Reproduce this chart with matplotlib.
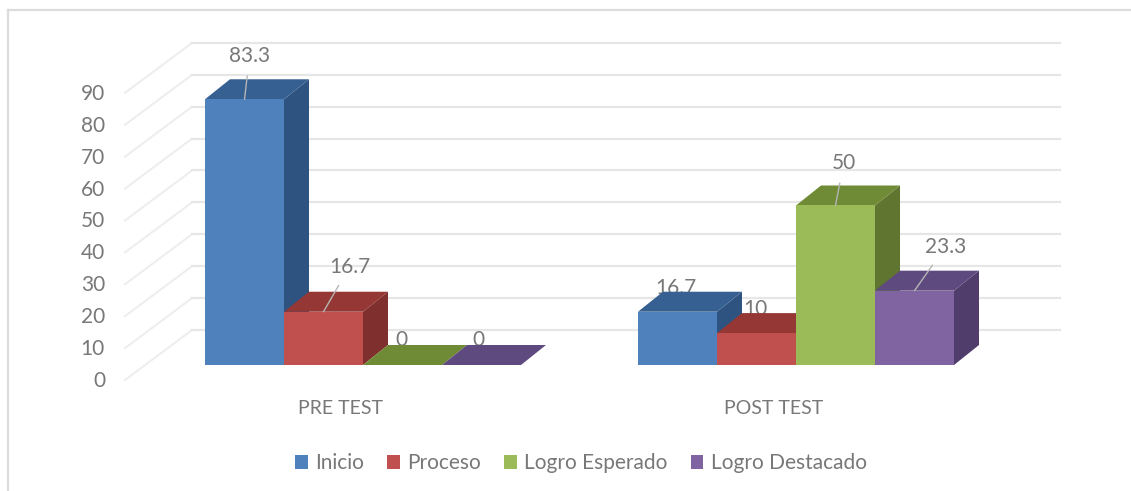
import matplotlib
matplotlib.use("Agg")
import matplotlib.pyplot as plt
from matplotlib.patches import Polygon, Patch, Rectangle

categories = ['PRE TEST', 'POST TEST']
series = ['Inicio', 'Proceso', 'Logro Esperado', 'Logro Destacado']
inicio = [83.3, 16.7]
proceso = [16.7, 10]
logro_esperado = [0, 50]
logro_destacado = [0, 23.3]
ticks = [0, 10, 20, 30, 40, 50, 60, 70, 80, 90]

front = ['#4f81bd', '#c0504d', '#9bbb59', '#8064a2']
side = ['#2f5380', '#7f2f2d', '#5f7530', '#503d6b']
top = ['#366092', '#953735', '#6f8b35', '#5f4a80']

PXX = 79.0    # pixels per bar width
PXY = 3.19    # pixels per value unit
W, H = 1131, 491

plt.rcParams['font.family'] = ['Lato', 'DejaVu Sans']

fig = plt.figure(figsize=(W / 100, H / 100), dpi=100)
ax = fig.add_axes([0, 0, 1, 1])
ax.set_xlim(-205 / PXX, (W - 205) / PXX)
ax.set_ylim((365 - H) / PXY, 365 / PXY)
ax.axis('off')

TXT = '#787878'
FS = 15
GRID = '#e6e6e6'

def px(x):
    return (x - 205) / PXX

def py(y):
    return (365 - y) / PXY

# outer chart border, only top and left show in the picture
ax.plot([px(8), px(8)], [py(H), py(10)], color='#dcdcdc', lw=1.6, zorder=1)
ax.plot([px(8), px(W)], [py(10), py(10)], color='#dcdcdc', lw=1.6, zorder=1)

# wall gridlines
for t in ticks:
    ax.plot([px(125), px(192)], [py(380) + t, py(330) + t],
            color='#eeeeee', lw=1.5, zorder=1)
    ax.plot([px(192), px(1060)], [py(330) + t, py(330) + t],
            color=GRID, lw=1.6, zorder=1)
    ax.text(px(105), py(381) + t, str(t), ha='right', va='center',
            fontsize=FS, color=TXT)

dx = 25 / PXX
dy = 20 / PXY
group_start = [0, (638 - 205) / PXX]
values = [inicio, proceso, logro_esperado, logro_destacado]

# text offsets in pixels from the front top centre of each bar
offsets = {(0, 0): (5, 43), (0, 1): (26, 45), (0, 2): (-1, 25), (0, 3): (-3, 25),
           (1, 0): (-1.5, 24), (1, 1): (-1, 24), (1, 2): (8, 42), (1, 3): (31, 44)}

for g, start in enumerate(group_start):
    for s, vals in enumerate(values):
        v = vals[g]
        x0 = start + s
        x1 = x0 + 1
        z = 3 + s * 0.1
        ax.add_patch(Polygon([(x1, 0), (x1 + dx, dy), (x1 + dx, v + dy), (x1, v)],
                             color=side[s], lw=0, zorder=z))
        ax.add_patch(Polygon([(x0, v), (x0 + dx, v + dy), (x1 + dx, v + dy), (x1, v)],
                             color=top[s], lw=0, zorder=z))
        ax.add_patch(Rectangle((x0, 0), 1, v, color=front[s], lw=0, zorder=z + 0.01))

        ox, oy = offsets[(g, s)]
        xm = x0 + 0.5
        label = f'{v:g}'
        if oy > 30:
            ax.annotate(label, xy=(xm, v), xytext=(ox, oy), textcoords='offset pixels',
                        ha='center', va='center', fontsize=FS, color=TXT, zorder=6,
                        arrowprops=dict(arrowstyle='-', color='#b5b5b5', lw=1,
                                        shrinkA=5, shrinkB=0))
        else:
            # these sit behind the bars, the tops cut them off
            ax.annotate(label, xy=(xm, v), xytext=(ox, oy), textcoords='offset pixels',
                        ha='center', va='center', fontsize=FS, color=TXT, zorder=2)

for start, cat in zip(group_start, categories):
    ax.text(start + 1.72, py(408), cat, ha='center', va='center', fontsize=FS - 1,
            color=TXT)

handles = [Patch(color=c, lw=0) for c in front]
fig.legend(handles, series, ncol=4, loc='center', frameon=False, fontsize=FS,
           labelcolor=TXT, bbox_to_anchor=(581 / W, 1 - 463 / H),
           handlelength=0.62, handleheight=0.65, handletextpad=0.35, columnspacing=1.1)

fig.savefig('out.png', dpi=100)
